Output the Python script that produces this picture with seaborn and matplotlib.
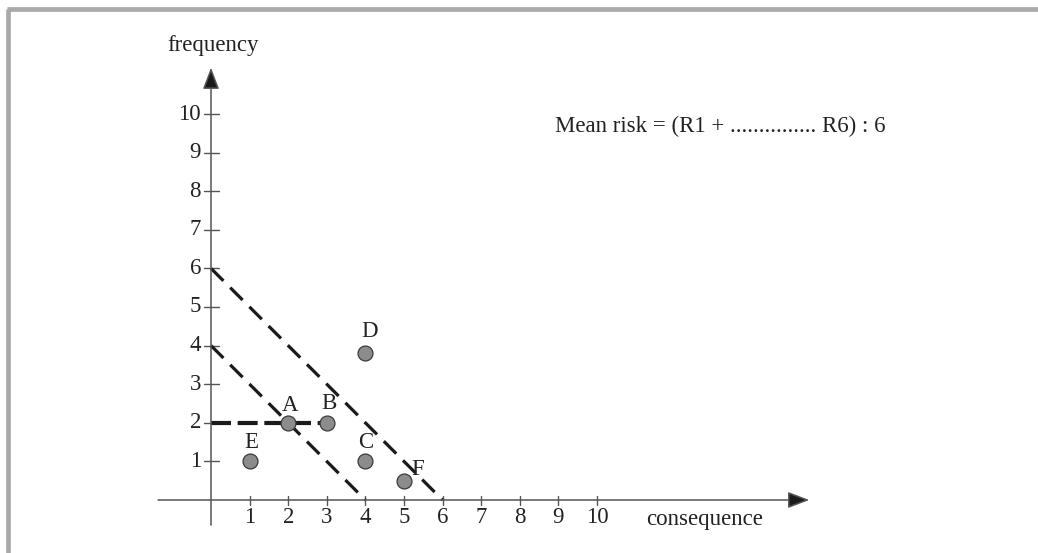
import matplotlib
matplotlib.use("Agg")
import matplotlib.pyplot as plt
from matplotlib.lines import Line2D
import seaborn as sns
import pandas as pd

# ---- data ----
labels = ["A", "B", "C", "D", "E", "F"]
consequence = [2, 3, 4, 4, 1, 5.0]
frequency = [2, 2, 1, 3.82, 1, 0.5]
x_ticks = [1, 2, 3, 4, 5, 6, 7, 8, 9, 10]
y_ticks = [1, 2, 3, 4, 5, 6, 7, 8, 9, 10]
iso_outer_x = [0, 6]
iso_outer_y = [6, 0]
iso_inner_x = [0, 4]
iso_inner_y = [4, 0]
hline_x = [0, 3]
hline_y = [2, 2]
note = "Mean risk = (R1 + ............... R6) : 6"

sns.set_theme(style="white")
plt.rcParams["font.family"] = ["Liberation Serif", "DejaVu Serif"]

W, H = 1038, 553
fig = plt.figure(figsize=(W / 100, H / 100), dpi=100)
ax = fig.add_axes([0, 0, 1, 1])
ax.set_axis_off()

unit = 38.6
x0_px, y0_px = 211, 500
ax.set_xlim(-x0_px / unit, (W - x0_px) / unit)
ax.set_ylim(-(H - y0_px) / unit, y0_px / unit)

txt = "#222222"
axc = "#555555"
fs = 16.5

# frame (gray border top and left)
fig.add_artist(Line2D([8 / W, 8 / W], [0, 1 - 8.5 / H], color="#a9a9a9", lw=3.4,
                      transform=fig.transFigure, solid_capstyle="butt"))
fig.add_artist(Line2D([6.5 / W, 1], [1 - 8.5 / H, 1 - 8.5 / H], color="#a9a9a9", lw=3.4,
                      transform=fig.transFigure, solid_capstyle="butt"))

# axes with arrows
ax.annotate("", xy=(15.5, 0), xytext=(-1.37, 0),
            arrowprops=dict(arrowstyle="-|>,head_length=1.1,head_width=0.42",
                            color=axc, lw=1.1, shrinkA=0, shrinkB=0, fc="#1a1a1a", ec=axc))
ax.annotate("", xy=(0, 11.2), xytext=(0, -0.65),
            arrowprops=dict(arrowstyle="-|>,head_length=1.1,head_width=0.42",
                            color=axc, lw=1.1, shrinkA=0, shrinkB=0, fc="#1a1a1a", ec=axc))

tick_half = 7.5 / unit
for t in x_ticks:
    ax.plot([t, t], [-4.5 / unit, 4.5 / unit], color=axc, lw=1.0)
    ax.text(t, -7 / unit, str(t), ha="center", va="top", fontsize=fs, color=txt)
for t in y_ticks:
    ax.plot([-tick_half, tick_half], [t, t], color=axc, lw=1.0)
    ax.text(-10 / unit, t, str(t), ha="right", va="center", fontsize=fs, color=txt)

ax.text(0.05, (y0_px - 46) / unit, "frequency", ha="center", va="center", fontsize=fs, color=txt)
ax.text((705 - x0_px) / unit, -20 / unit, "consequence", ha="center", va="center",
        fontsize=fs, color=txt)
ax.text((555 - x0_px) / unit, (y0_px - 126) / unit, note, ha="left", va="center",
        fontsize=fs, color=txt)

# dashed iso-risk lines
ax.plot(iso_outer_x, iso_outer_y, color="#1a1a1a", lw=2.3, linestyle=(0, (5.5, 3.0)),
        dash_capstyle="butt")
ax.plot(iso_inner_x, iso_inner_y, color="#1a1a1a", lw=2.3, linestyle=(0, (5.5, 3.0)),
        dash_capstyle="butt")
ax.plot(hline_x, hline_y, color="#1a1a1a", lw=3.0, linestyle=(0, (4.8, 1.6)),
        dash_capstyle="butt")

df = pd.DataFrame({"consequence": consequence, "frequency": frequency, "label": labels})
sns.scatterplot(data=df, x="consequence", y="frequency", ax=ax, s=115,
                color="#8c8c8c", edgecolor="#3a3a3a", linewidth=0.9, zorder=5)

offsets = {"A": (0.05, 0.45), "B": (0.05, 0.5), "C": (0.0, 0.5), "D": (0.12, 0.55),
           "E": (0.05, 0.5), "F": (0.35, 0.3)}
for _, r in df.iterrows():
    dx, dy = offsets[r["label"]]
    ax.text(r["consequence"] + dx, r["frequency"] + dy, r["label"], ha="center",
            va="center", fontsize=fs, color=txt)

fig.savefig("out.png", dpi=100, facecolor="white")
